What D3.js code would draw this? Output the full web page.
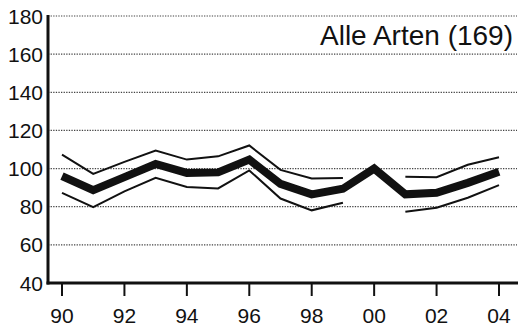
<!DOCTYPE html>
<html>
<head>
<meta charset="utf-8">
<script src="https://cdn.jsdelivr.net/npm/d3@7"></script>
<style>
  body { margin: 0; background: #fff; }
  text { font-family: "Liberation Sans", Arial, sans-serif; fill: #111; }
</style>
</head>
<body>
<div id="chart"></div>
<script>
const width = 519;
const height = 330;

// data
const years = d3.range(1990, 2005);
const indexValues = [96, 88.7, 95.5, 102.4, 97.7, 98, 104.7, 92, 86.5, 89.4, 100, 86.5, 87.3, 92.5, 98.3];
const upperValues = [107.3, 97.2, 103.5, 109.5, 104.7, 106.4, 112.1, 99.3, 94.8, 95.1, null, 95.7, 95.5, 102, 105.9];
const lowerValues = [87.3, 79.8, 88, 95.2, 90.3, 89.6, 99, 84.3, 78.1, 82.1, null, 77.4, 79.5, 84.7, 91.3];
const yTicks = [40, 60, 80, 100, 120, 140, 160, 180];
const xTicks = [1990, 1992, 1994, 1996, 1998, 2000, 2002, 2004];
const title = "Alle Arten (169)";

const x = d3.scaleLinear().domain([1990, 2004]).range([62, 499]);
const y = d3.scaleLinear().domain([40, 180]).range([283, 16]);

const svg = d3
  .select("#chart")
  .append("svg")
  .attr("width", width)
  .attr("height", height);

// dotted grid
svg
  .selectAll(".grid")
  .data(yTicks.filter((d) => d > 40))
  .join("line")
  .attr("x1", 48)
  .attr("x2", 517)
  .attr("y1", (d) => y(d))
  .attr("y2", (d) => y(d))
  .attr("stroke", "#444")
  .attr("stroke-width", 1.2)
  .attr("stroke-dasharray", "1.3,1.3");

// y axis labels
svg
  .selectAll(".ylab")
  .data(yTicks)
  .join("text")
  .attr("x", 43)
  .attr("y", (d) => y(d))
  .attr("dy", "0.36em")
  .attr("text-anchor", "end")
  .style("font-size", "21px")
  .text((d) => d);

// x ticks and labels
svg
  .selectAll(".xtick")
  .data(xTicks)
  .join("line")
  .attr("x1", (d) => x(d))
  .attr("x2", (d) => x(d))
  .attr("y1", 283)
  .attr("y2", 296)
  .attr("stroke", "#111")
  .attr("stroke-width", 2);

svg
  .selectAll(".xlab")
  .data(xTicks)
  .join("text")
  .attr("x", (d) => x(d))
  .attr("y", 323)
  .attr("text-anchor", "middle")
  .style("font-size", "21px")
  .text((d) => String(d % 100).padStart(2, "0"));

// axis lines
svg
  .append("line")
  .attr("x1", 48)
  .attr("x2", 48)
  .attr("y1", 15)
  .attr("y2", 284.5)
  .attr("stroke", "#111")
  .attr("stroke-width", 3);

svg
  .append("line")
  .attr("x1", 46.5)
  .attr("x2", 518)
  .attr("y1", 283)
  .attr("y2", 283)
  .attr("stroke", "#111")
  .attr("stroke-width", 3);

const line = d3
  .line()
  .defined((d) => d[1] != null)
  .x((d) => x(d[0]))
  .y((d) => y(d[1]));

const bands = [upperValues, lowerValues];
svg
  .selectAll(".band")
  .data(bands)
  .join("path")
  .attr("d", (vals) => line(years.map((yr, i) => [yr, vals[i]])))
  .attr("fill", "none")
  .attr("stroke", "#111")
  .attr("stroke-width", 2);

svg
  .append("path")
  .attr("d", line(years.map((yr, i) => [yr, indexValues[i]])))
  .attr("fill", "none")
  .attr("stroke", "#111")
  .attr("stroke-width", 8);

svg
  .append("text")
  .attr("x", 513)
  .attr("y", 45)
  .attr("text-anchor", "end")
  .style("font-size", "28px")
  .text(title);
</script>
</body>
</html>
